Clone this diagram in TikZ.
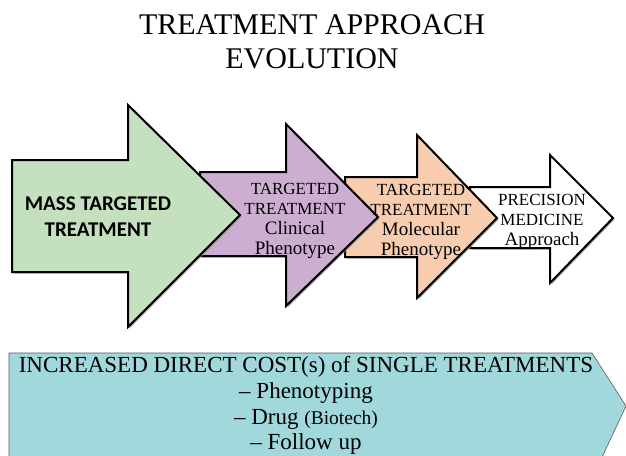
\documentclass[tikz,border=0pt]{standalone}
\usepackage{fontspec}
\setmainfont{Liberation Serif}
\newfontfamily\calfont{Carlito}
\usepackage{tikz}
\usetikzlibrary{shadows}
\definecolor{massgreen}{RGB}{197,224,191}
\definecolor{clinpurple}{RGB}{204,175,208}
\definecolor{molpeach}{RGB}{248,204,174}
\definecolor{costteal}{RGB}{160,216,220}
\newcommand{\subline}[1]{{\fontsize{19}{20}\selectfont #1}}

\begin{document}
\begin{tikzpicture}[x=1pt,y=-1pt,
  arrowshape/.style={draw=black,line width=2pt,line join=miter,
    drop shadow={shadow xshift=1.5pt,shadow yshift=-1.5pt,opacity=0.7}},
  steplabel/.style={align=center,font=\fontsize{17}{20}\selectfont,inner sep=0pt},
  costline/.style={font=\fontsize{23}{26}\selectfont,inner sep=0pt}]
\useasboundingbox (0,0) rectangle (626,455);
\node[font=\fontsize{30}{34}\selectfont,align=center] (title) at (312,42)
  {TREATMENT APPROACH\\EVOLUTION};
\fill[arrowshape,fill=white] (470,187) -- (550,187) -- (550,155) -- (613,218)
  -- (550,283) -- (550,248) -- (470,248) -- cycle;
\fill[arrowshape,fill=molpeach] (345,177) -- (417,177) -- (417,135) -- (497,218)
  -- (417,298) -- (417,257) -- (345,257) -- cycle;
\fill[arrowshape,fill=clinpurple] (200,172) -- (286,172) -- (286,124) -- (378,217)
  -- (286,306) -- (286,256) -- (200,256) -- cycle;
\fill[arrowshape,fill=massgreen] (12,160) -- (128,160) -- (128,105) -- (240,215)
  -- (128,327) -- (128,272) -- (12,272) -- cycle;
\node[align=center,font=\calfont\bfseries\fontsize{21}{26}\selectfont] (mass) at (98,217)
  {MASS TARGETED\\TREATMENT};
\node[steplabel] (clinical) at (295,221)
  {TARGETED\\TREATMENT\\\subline{Clinical}\\\subline{Phenotype}};
\node[steplabel] (molecular) at (421,222)
  {TARGETED\\TREATMENT\\\subline{Molecular}\\\subline{Phenotype}};
\node[steplabel] (precision) at (542,222)
  {PRECISION\\MEDICINE\\\subline{Approach}};
\begin{scope}
\clip (0,0) rectangle (626,455);
\fill[costteal,draw=gray!70!black,line width=0.6pt] (9,353) -- (592,353) -- (626,406)
  -- (596,470) -- (9,470) -- cycle;
\end{scope}
\node[costline] (cost) at (306,367) {INCREASED DIRECT COST(s) of SINGLE TREATMENTS};
\node[costline] (pheno) at (306,393) {-- Phenotyping};
\node[costline] (drug) at (306,419) {-- Drug {\fontsize{19.5}{22}\selectfont(Biotech)}};
\node[costline] (follow) at (306,444) {-- Follow up};
\end{tikzpicture}
\end{document}
